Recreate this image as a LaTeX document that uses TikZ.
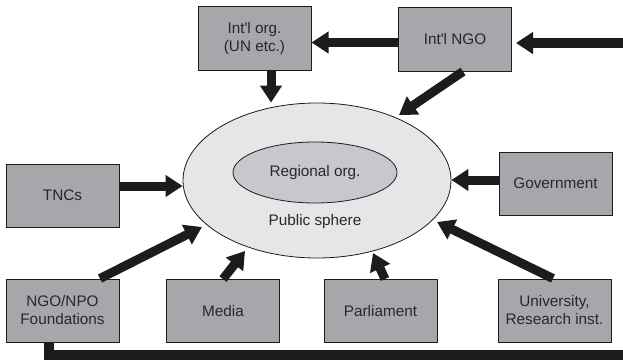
\documentclass[tikz,border=0pt]{standalone}
\usepackage{fontspec}
\setmainfont{Liberation Sans}
\usetikzlibrary{arrows.meta,calc,shapes.geometric}
\definecolor{boxfill}{RGB}{166,167,171}
\definecolor{outerfill}{RGB}{229,230,232}
\definecolor{innerfill}{RGB}{199,200,203}
\definecolor{ink}{RGB}{28,28,28}
\definecolor{txt}{RGB}{40,40,40}
\newcommand{\ap}{\textquotesingle}
\begin{document}
\begin{tikzpicture}[x=1pt,y=-1pt,
  every node/.style={font=\fontsize{15.3}{18}\selectfont, text=txt, align=center},
  gbox/.style={draw=ink, line width=1pt, fill=boxfill, minimum width=113pt, minimum height=63pt, inner sep=0pt},
  arr/.style={draw=ink, line width=9pt, -{Triangle[width=21pt,length=17pt]}},
  barline/.style={draw=ink, line width=10pt, line join=miter, -{Triangle[width=21pt,length=17pt]}}
]
\useasboundingbox (0,0) rectangle (623,361);
\clip (0,0) rectangle (623,361);
% ellipses
\node[ellipse, draw=ink, line width=0.8pt, fill=outerfill, minimum width=268pt, minimum height=155pt, inner sep=0pt] (ps) at (317,180.5) {};
\node[ellipse, draw=ink, line width=0.8pt, fill=innerfill, minimum width=164pt, minimum height=61pt, inner sep=0pt] (reg) at (315,172.5) {Regional org.};
\node (pslabel) at (315,222) {Public sphere};
% boxes
\node[gbox] (iorg) at (254.5,38.5) {Int\ap l org.\\(UN etc.)};
\node[gbox] (intngo) at (455,39.5) {Int\ap l NGO};
\node[gbox] (tncs) at (62.5,195.5) {TNCs};
\node[gbox] (gov) at (555.5,183.5) {Government};
\node[gbox] (ngo) at (62.5,310.5) {NGO/NPO\\Foundations};
\node[gbox] (media) at (223,311) {Media};
\node[gbox] (parl) at (380.5,311) {Parliament};
\node[gbox] (univ) at (554.5,310.5) {University,\\Research inst.};
% helper coordinates
\coordinate (br) at (650,355);
\coordinate (tr) at (650,43);
\coordinate (a1) at ($(iorg.south)+(16.5,0)$);
\coordinate (a2) at ($(intngo.west)+(0,3)$);
\coordinate (a3) at ($(tncs.east)+(0,-9.5)$);
\coordinate (a4) at ($(gov.west)+(0,-3.5)$);
\coordinate (a5) at ($(ngo.south)+(-13.5,0)$);
\coordinate (a6) at ($(intngo.east)+(4,0)$);
% arrows
\draw[arr] (a1) -- (a1 |- ps.north);
\draw[arr] (a2) -- (a2 -| iorg.east);
\draw[arr] ($(intngo.south)+(8,0)$) -- ($(ps.center)+(82,-65.5)$);
\draw[arr] (a3) -- (a3 -| ps.west);
\draw[arr] (a4) -- (a4 -| ps.east);
\draw[arr] ($(ngo.north)+(37.5,0)$) -- ($(ps.center)+(-115,46.5)$);
\draw[arr] (media.north) -- ($(ps.center)+(-72,70.5)$);
\draw[arr] ($(parl.north)+(4.5,0)$) -- ($(ps.center)+(56,72.5)$);
\draw[arr] ($(univ.north)+(-1.5,0)$) -- ($(ps.center)+(120,41.5)$);
\draw[barline] (a5) |- (br) -- (tr) -- (a6 |- tr);
\end{tikzpicture}
\end{document}
